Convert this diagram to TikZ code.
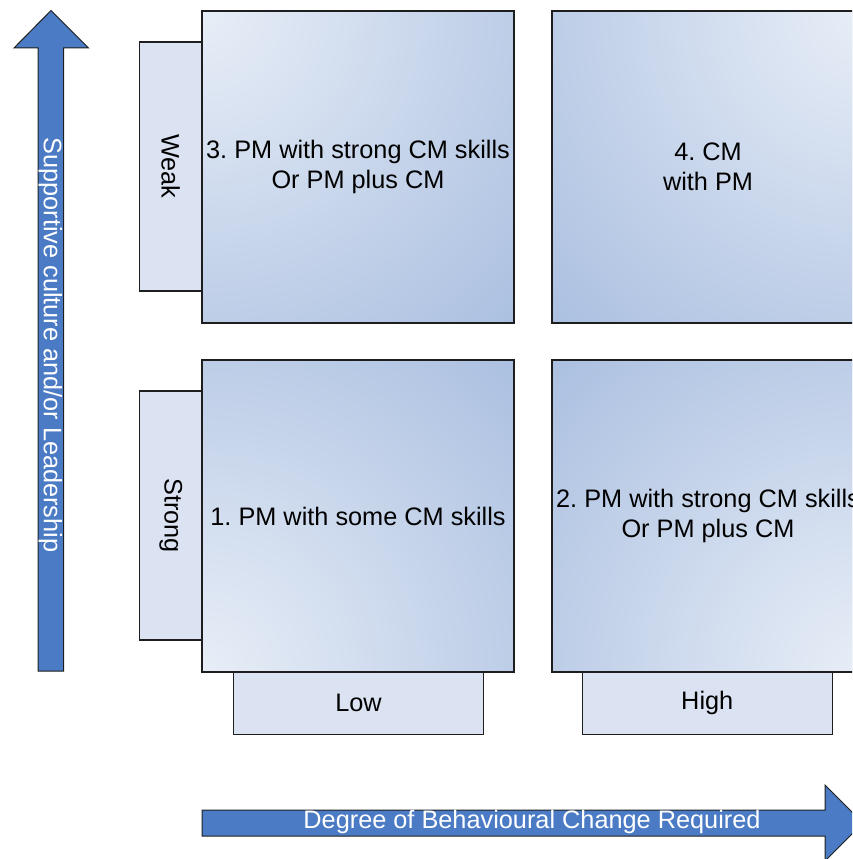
\documentclass[tikz,border=0pt]{standalone}
\usepackage{fontspec}
\setmainfont{Liberation Sans}
\frenchspacing
\definecolor{arrowblue}{HTML}{4A7BC4}
\definecolor{glowlight}{HTML}{E8EEF7}
\definecolor{glowdark}{HTML}{AABFE0}
\definecolor{tabfill}{HTML}{DBE2F1}
\definecolor{edge}{HTML}{1E1E1E}
% light spot in the middle, darkening outwards; placed on a box corner
\pgfdeclareradialshading{cornerglow}{\pgfpointorigin}{color(0bp)=(glowlight); color(28bp)=(glowdark); color(50bp)=(glowdark)}
\newcommand{\labelfont}{\fontsize{25.3}{30}\selectfont}
\tikzset{
  quad/.style={draw=edge, line width=1.2pt, fill=glowdark,
    minimum width=312pt, minimum height=312pt, inner sep=0pt,
    align=center, font=\labelfont,
    path picture={\shade[shading=cornerglow]
      (path picture bounding box.#1) ++(-400pt,-400pt) rectangle ++(800pt,800pt);}},
  sidetab/.style={draw=edge, line width=1.2pt, fill=tabfill,
    minimum width=62.5pt, minimum height=249pt, inner sep=0pt, font=\labelfont},
  bottomtab/.style={draw=edge, line width=1.2pt, fill=tabfill,
    minimum width=250pt, minimum height=62.5pt, inner sep=0pt, font=\labelfont},
  bigarrow/.style={draw=edge, line width=1pt, fill=arrowblue},
  arrowtext/.style={text=white, font=\labelfont, inner sep=0pt}
}
\begin{document}
\begin{tikzpicture}[x=1pt,y=-1pt]
\useasboundingbox (0,0) rectangle (852,859);
\clip (0,0) rectangle (852,859);

% vertical axis arrow
\draw[bigarrow] (38,671) -- (38,48) -- (14,48) -- (51,10.5) -- (88.5,48)
  -- (63.5,48) -- (63.5,671) -- cycle;
\node[arrowtext, rotate=-90] (vlabel) at (50.5,345) {Supportive culture and/or Leadership};

% horizontal axis arrow
\draw[bigarrow] (202,810) -- (825,810) -- (825,785) -- (863,823) -- (825,861)
  -- (825,836) -- (202,836) -- cycle;
\node[arrowtext] (hlabel) at (532,822) {Degree of Behavioural Change Required};

% row and column tabs
\node[sidetab] (weak) at (170.75,166.5) {\rotatebox{-90}{Weak}};
\node[sidetab] (strong) at (170.75,515.5) {\rotatebox{-90}{Strong}};
\node[bottomtab] (low) at (358.5,703.25) {Low};
\node[bottomtab] (high) at (707.25,703.25) {High};

% the four quadrants
\node[quad=north west] (q3) at (358,167) {3. PM with strong CM skills\\Or PM plus CM};
\node[quad=north east] (q4) at (708,167) {4. CM\\with PM};
\node[quad=south west] (q1) at (358,516) {1. PM with some CM skills};
\node[quad=south east] (q2) at (708,516) {2. PM with strong CM skills\\Or PM plus CM};
\end{tikzpicture}
\end{document}
